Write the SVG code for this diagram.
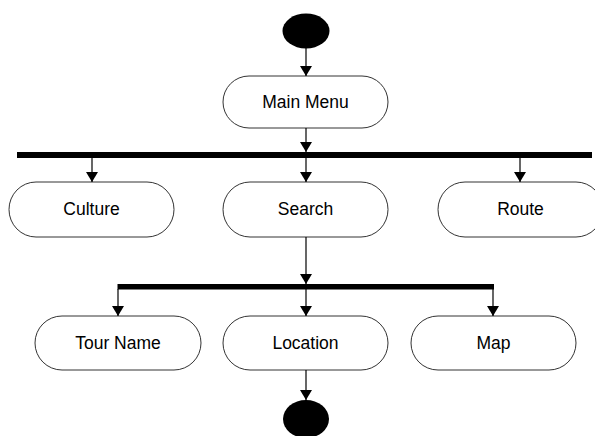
<svg xmlns="http://www.w3.org/2000/svg" width="595" height="436" viewBox="0 0 595 436">
<style>
.node rect{fill:#fff;stroke:#333;stroke-width:1}
.node text{font-family:"Liberation Sans",Arial,sans-serif;font-size:17.5px;fill:#000;text-anchor:middle}
.conn line{stroke:#000;stroke-width:1.2;marker-end:url(#ah)}
.bar{fill:#000}
</style>
<defs>
<marker id="ah" markerUnits="userSpaceOnUse" markerWidth="12" markerHeight="12" refX="10" refY="6" orient="auto">
<path d="M0,0 L10,6 L0,12 z" fill="#000"/>
</marker>
</defs>
<rect width="595" height="436" fill="#fff"/>
<g id="start"><ellipse cx="306" cy="31" rx="23.5" ry="17.5" fill="#000"/></g>
<g id="mainmenu" class="node"><rect x="223" y="76" width="165" height="52" rx="26" ry="26"/><text x="305.5" y="108">Main Menu</text></g>
<g id="fork1"><rect class="bar" x="17" y="152" width="575" height="6"/></g>
<g id="culture" class="node"><rect x="9" y="182" width="165" height="55" rx="27" ry="27.5"/><text x="91.5" y="215">Culture</text></g>
<g id="search" class="node"><rect x="223" y="182" width="165" height="55" rx="27" ry="27.5"/><text x="305.5" y="215">Search</text></g>
<g id="route" class="node"><rect x="438" y="182" width="165" height="55" rx="27" ry="27.5"/><text x="520.5" y="215">Route</text></g>
<g id="fork2"><rect class="bar" x="117.5" y="284" width="376.5" height="5.5"/></g>
<g id="tourname" class="node"><rect x="35" y="316" width="166" height="54" rx="27" ry="27"/><text x="118" y="349">Tour Name</text></g>
<g id="location" class="node"><rect x="223" y="316" width="165" height="54" rx="27" ry="27"/><text x="305.5" y="349">Location</text></g>
<g id="map" class="node"><rect x="411" y="316" width="165" height="54" rx="27" ry="27"/><text x="493.5" y="349">Map</text></g>
<g id="end"><ellipse cx="306" cy="419" rx="23" ry="19" fill="#000"/></g>
<g id="connectors" class="conn">
<line x1="306" y1="48" x2="306" y2="76"/>
<line x1="306" y1="128" x2="306" y2="152"/>
<line x1="92" y1="158" x2="92" y2="182"/>
<line x1="306" y1="158" x2="306" y2="182"/>
<line x1="520" y1="158" x2="520" y2="182"/>
<line x1="306" y1="237" x2="306" y2="284"/>
<line x1="118" y1="289" x2="118" y2="316"/>
<line x1="306" y1="289" x2="306" y2="316"/>
<line x1="493" y1="289" x2="493" y2="316"/>
<line x1="306" y1="370" x2="306" y2="400"/>
</g>
</svg>
